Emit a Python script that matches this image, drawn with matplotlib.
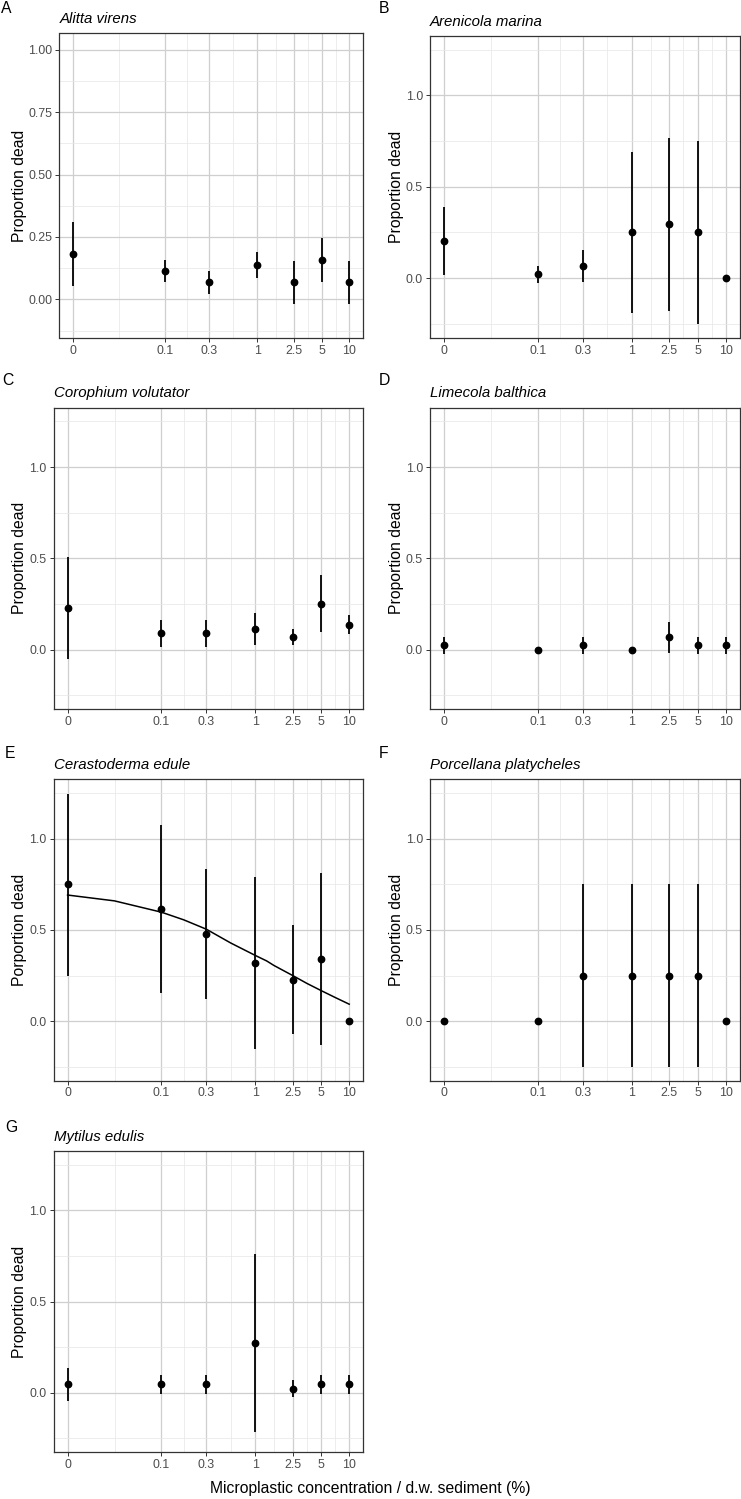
import matplotlib

matplotlib.use("Agg")
import matplotlib.pyplot as plt
import numpy as np
from matplotlib.ticker import NullFormatter

plt.rcParams["font.family"] = ["Liberation Sans", "DejaVu Sans"]

# Concentraciones (0 se dibuja en 0.01 sobre el eje log)
conc = [0, 0.1, 0.3, 1, 2.5, 5, 10]
conc_labels = ["0", "0.1", "0.3", "1", "2.5", "5", "10"]

# Proporción de muertos: media y extremos de la barra
alitta_mean = [0.182, 0.114, 0.068, 0.136, 0.068, 0.159, 0.068]
alitta_lo = [0.055, 0.068, 0.023, 0.084, -0.020, 0.071, -0.020]
alitta_hi = [0.311, 0.159, 0.113, 0.188, 0.155, 0.247, 0.155]

arenicola_mean = [0.204, 0.022, 0.065, 0.250, 0.295, 0.250, 0.0]
arenicola_lo = [0.015, -0.024, -0.020, -0.193, -0.178, -0.249, 0.0]
arenicola_hi = [0.389, 0.065, 0.155, 0.691, 0.767, 0.749, 0.0]

corophium_mean = [0.229, 0.091, 0.091, 0.114, 0.069, 0.250, 0.136]
corophium_lo = [-0.053, 0.016, 0.016, 0.027, 0.024, 0.094, 0.085]
corophium_hi = [0.510, 0.165, 0.165, 0.203, 0.114, 0.407, 0.189]

limecola_mean = [0.024, 0.0, 0.024, 0.0, 0.069, 0.024, 0.024]
limecola_lo = [-0.022, 0.0, -0.022, 0.0, -0.018, -0.022, -0.022]
limecola_hi = [0.069, 0.0, 0.069, 0.0, 0.154, 0.069, 0.069]

cerastoderma_mean = [0.750, 0.613, 0.477, 0.319, 0.227, 0.341, 0.0]
cerastoderma_lo = [0.250, 0.152, 0.120, -0.152, -0.073, -0.131, 0.0]
cerastoderma_hi = [1.247, 1.073, 0.835, 0.791, 0.528, 0.811, 0.0]

# Curva ajustada para Cerastoderma edule
fit_x = [0.01, 0.0316, 0.1, 0.173, 0.3, 0.548, 1, 1.32, 1.58, 2.5, 3.54, 5, 7.07, 10]
fit_y = [0.691, 0.659, 0.597, 0.555, 0.504, 0.428, 0.360, 0.330, 0.305, 0.250,
         0.207, 0.168, 0.130, 0.093]

porcellana_mean = [0.0, 0.0, 0.25, 0.25, 0.25, 0.25, 0.0]
porcellana_lo = [0.0, 0.0, -0.249, -0.249, -0.249, -0.249, 0.0]
porcellana_hi = [0.0, 0.0, 0.75, 0.75, 0.75, 0.75, 0.0]

mytilus_mean = [0.046, 0.046, 0.046, 0.271, 0.022, 0.046, 0.046]
mytilus_lo = [-0.047, -0.007, -0.007, -0.215, -0.024, -0.007, -0.007]
mytilus_hi = [0.138, 0.098, 0.098, 0.761, 0.067, 0.098, 0.098]

W, H = 741, 1499
fig = plt.figure(figsize=(W / 100, H / 100), dpi=100)

GRID_MAJOR = "#cfcfcf"
GRID_MINOR = "#e6e6e6"
TXT = "#4d4d4d"

xpos = np.where(np.array(conc) == 0, 0.01, np.array(conc, dtype=float))
x_minor = np.sqrt(xpos[:-1] * xpos[1:])


def _rect(left, top, right, bottom):
    return [left / W, 1 - bottom / H, (right - left) / W, (bottom - top) / H]


def _panel(box, letter, letter_xy, title, mean, lo, hi, ylabel, ylabel_x, small_scale=False):
    ax = fig.add_axes(_rect(*box))
    ax.set_xscale("log")
    ax.set_xlim(10 ** -2.15, 10 ** 1.15)
    ax.set_xticks(xpos)
    ax.set_xticklabels(conc_labels)
    ax.set_xticks(x_minor, minor=True)
    ax.xaxis.set_minor_formatter(NullFormatter())

    if small_scale:
        ax.set_ylim(-0.153, 1.066)
        ax.set_yticks([0, 0.25, 0.5, 0.75, 1.0])
        ax.set_yticklabels(["0.00", "0.25", "0.50", "0.75", "1.00"])
        ax.set_yticks([-0.125, 0.125, 0.375, 0.625, 0.875], minor=True)
    else:
        ax.set_ylim(-0.325, 1.325)
        ax.set_yticks([0, 0.5, 1.0])
        ax.set_yticklabels(["0.0", "0.5", "1.0"])
        ax.set_yticks([-0.25, 0.25, 0.75, 1.25], minor=True)
    ax.yaxis.set_minor_formatter(NullFormatter())

    ax.set_axisbelow(True)
    ax.grid(which="major", color=GRID_MAJOR, linewidth=0.9)
    ax.grid(which="minor", color=GRID_MINOR, linewidth=0.5)
    ax.tick_params(which="major", length=3.2, width=0.7, color="#333333",
                   labelsize=8.9, labelcolor=TXT, pad=1.8)
    ax.tick_params(which="minor", length=0)
    for sp in ax.spines.values():
        sp.set_color("#333333")
        sp.set_linewidth(0.9)

    ax.vlines(xpos, lo, hi, color="black", linewidth=1.3, zorder=3)
    ax.plot(xpos, mean, "o", color="black", markersize=4.6, zorder=4)

    left, top, right, bottom = box
    fig.text(letter_xy[0] / W, 1 - letter_xy[1] / H, letter, fontsize=11.3,
             ha="left", va="top", color="black")
    fig.text(left / W, 1 - (top - 10.5) / H, title, fontsize=10.8,
             style="italic", ha="left", va="baseline", color="black")
    fig.text(ylabel_x / W, 1 - ((top + bottom) / 2) / H, ylabel, fontsize=11.3,
             rotation=90, ha="center", va="center", color="black")
    return ax


# Cajas de los paneles en píxeles: (izq, arriba, der, abajo)
_panel((59.5, 33.3, 363.3, 337.6), "A", (1, 1), "Alitta virens",
       alitta_mean, alitta_lo, alitta_hi, "Proportion dead", 20, small_scale=True)
_panel((430, 36, 740, 337.6), "B", (379, 1), "Arenicola marina",
       arenicola_mean, arenicola_lo, arenicola_hi, "Proportion dead", 396)
_panel((53.5, 407.7, 363.3, 709), "C", (2, 373), "Corophium volutator",
       corophium_mean, corophium_lo, corophium_hi, "Proportion dead", 20)
_panel((430, 407.7, 740, 709), "D", (379, 373), "Limecola balthica",
       limecola_mean, limecola_lo, limecola_hi, "Proportion dead", 396)
ax_e = _panel((53.5, 779.3, 363.3, 1080.5), "E", (5, 746), "Cerastoderma edule",
              cerastoderma_mean, cerastoderma_lo, cerastoderma_hi, "Porportion dead", 20)
ax_e.plot(fit_x, fit_y, color="black", linewidth=1.1, zorder=3)
_panel((430, 779.3, 740, 1080.5), "F", (379, 746), "Porcellana platycheles",
       porcellana_mean, porcellana_lo, porcellana_hi, "Proportion dead", 396)
_panel((53.5, 1151, 363.3, 1452), "G", (5, 1120), "Mytilus edulis",
       mytilus_mean, mytilus_lo, mytilus_hi, "Proportion dead", 20)

fig.text(370 / W, 1 - 1489 / H, "Microplastic concentration / d.w. sediment (%)",
         fontsize=11.3, ha="center", va="center", color="black")

fig.savefig("out.png", dpi=100)
